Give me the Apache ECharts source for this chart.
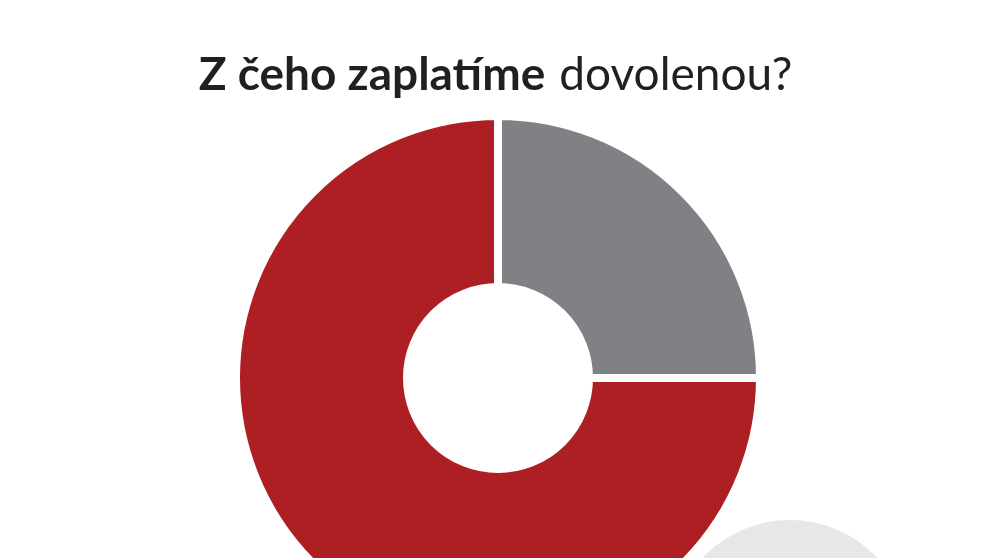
<!DOCTYPE html>
<html>
<head>
<meta charset="utf-8">
<script src="https://cdn.jsdelivr.net/npm/echarts@6/dist/echarts.min.js"></script>
<style>
  html, body { margin: 0; padding: 0; background: #ffffff; }
  #chart { width: 991px; height: 558px; }
</style>
</head>
<body>
<div id="chart"></div>
<script>
const titleBold = 'Z čeho zaplatíme'
const titleRegular = 'dovolenou?'

const categories = ['Ostatní', 'Z úspor']
const shares = [25, 75]
const colors = ['#808184', '#ae1f24']

const chart = echarts.init(document.getElementById('chart'))

const titleFont = { fontFamily: 'Lato', fontSize: 46, lineHeight: 52, color: '#231f20' }

const option = {
  backgroundColor: '#ffffff',
  animation: false,
  title: {
    text: '{b|' + titleBold + '}{gap|}{r|' + titleRegular + '}',
    left: 'center',
    top: 44,
    textStyle: {
      rich: {
        b: { ...titleFont, fontWeight: 'bold' },
        gap: { width: 14, lineHeight: 52 },
        r: { ...titleFont, fontWeight: 'normal' }
      }
    }
  },
  graphic: [
    {
      type: 'circle',
      z: -1,
      shape: { cx: 790, cy: 640, r: 120 },
      style: { fill: '#e6e7e8' }
    }
  ],
  series: [
    {
      type: 'pie',
      center: [498, 378],
      radius: [91, 262],
      startAngle: 90,
      clockwise: true,
      silent: true,
      label: { show: false },
      labelLine: { show: false },
      itemStyle: { borderColor: '#ffffff', borderWidth: 8 },
      emphasis: { disabled: true },
      data: categories.map((name, i) => ({
        name,
        value: shares[i],
        itemStyle: { color: colors[i] }
      }))
    }
  ]
}

chart.setOption(option)
window.addEventListener('resize', () => chart.resize())
</script>
</body>
</html>
